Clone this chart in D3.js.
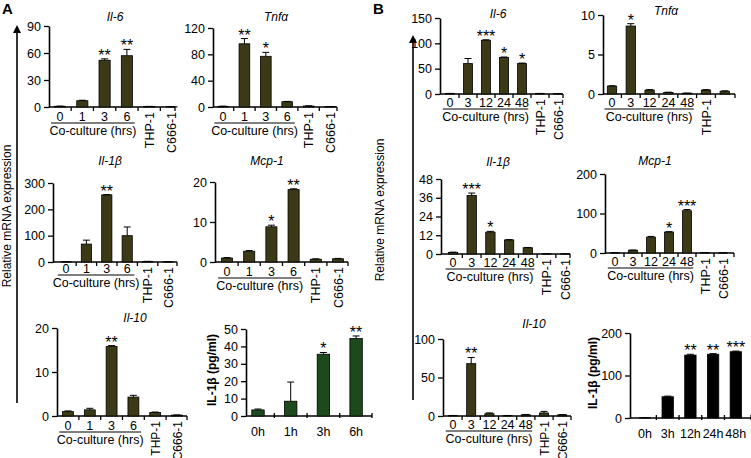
<!DOCTYPE html>
<html><head><meta charset="utf-8">
<script src="https://cdn.jsdelivr.net/npm/d3@7"></script>
<style>body{margin:0;background:#fff} text{font-family:Arial,"Liberation Sans",sans-serif;fill:#000}</style>
</head><body><svg id="c" width="751" height="458"></svg>
<script>
// ---------- data ----------
const catsA = ["0","1","3","6","THP-1","C666-1"];
const catsB = ["0","3","12","24","48","THP-1","C666-1"];
const elisaCatsA = ["0h","1h","3h","6h"];
const elisaCatsB = ["0h","3h","12h","24h","48h"];

const il6A = [0.8, 7, 52, 57, 0.5, 0.3];
const il6AErr = [0.2, 0.5, 1.5, 7, 0.2, 0.1];
const il6AStars = ["", "", "**", "**", "", ""];
const il6ATicks = [0, 30, 60, 90];

const tnfA = [1, 96, 77, 8, 1.5, 0.5];
const tnfAErr = [0.3, 8, 6, 0.5, 0.3, 0.1];
const tnfAStars = ["", "**", "*", "", "", ""];
const tnfATicks = [0, 40, 80, 120];

const il1bA = [1, 68, 255, 100, 2, 0.5];
const il1bAErr = [0.3, 15, 1, 33, 0.5, 0.1];
const il1bAStars = ["", "", "**", "", "", ""];
const il1bATicks = [0, 100, 200, 300];

const mcp1A = [1.0, 2.7, 8.8, 18.1, 0.7, 0.8];
const mcp1AErr = [0.1, 0.15, 0.4, 0.2, 0.1, 0.1];
const mcp1AStars = ["", "", "*", "**", "", ""];
const mcp1ATicks = [0, 10, 20];

const il10A = [1.0, 1.4, 15.8, 4.3, 0.8, 0.2];
const il10AErr = [0.15, 0.35, 0.2, 0.4, 0.1, 0.05];
const il10AStars = ["", "", "**", "", "", ""];
const il10ATicks = [0, 10, 20];

const elisaA = [3.5, 8.5, 35.5, 44.5];
const elisaAErr = [0.5, 11, 1, 1.5];
const elisaAStars = ["", "", "*", "**"];
const elisaATicks = [0, 10, 20, 30, 40, 50];

const il6B = [1, 60, 106, 72, 60, 1, 0.5];
const il6BErr = [0.2, 10, 1, 1, 1, 0.2, 0.1];
const il6BStars = ["", "", "***", "*", "*", "", ""];
const il6BTicks = [0, 50, 100, 150];

const tnfB = [1.0, 8.6, 0.5, 0.2, 0.1, 0.5, 0.35];
const tnfBErr = [0.05, 0.3, 0.05, 0.03, 0.02, 0.05, 0.05];
const tnfBStars = ["", "*", "", "", "", "", ""];
const tnfBTicks = [0, 5, 10];

const il1bB = [1.0, 37.5, 14, 9, 4, 0.1, 0.1];
const il1bBErr = [0.2, 1.5, 0.5, 0.2, 0.2, 0.02, 0.02];
const il1bBStars = ["", "***", "*", "", "", "", ""];
const il1bBTicks = [0, 12, 24, 36, 48];

const mcp1B = [0.5, 7, 40, 53, 107, 1, 0.3];
const mcp1BErr = [0.1, 0.5, 2, 1, 3, 0.2, 0.1];
const mcp1BStars = ["", "", "", "*", "***", "", ""];
const mcp1BTicks = [0, 100, 200];

const il10B = [0.5, 68, 3, 0.5, 1.5, 4, 1.5];
const il10BErr = [0.2, 8, 1, 0.2, 0.5, 2, 0.3];
const il10BStars = ["", "**", "", "", "", "", ""];
const il10BTicks = [0, 50, 100];

const elisaB = [0.5, 50, 148, 150, 156];
const elisaBErr = [0.2, 1.5, 2, 1.5, 1.5];
const elisaBStars = ["", "", "**", "**", "***"];
const elisaBTicks = [0, 100, 200];

// ---------- drawing ----------
const svg = d3.select("#c");
const OLIVE = "#3b3916";

function drawPanel(p) {
  const n = p.cats.length;
  const y = d3.scaleLinear().domain([0, p.max]).range([p.yBot, p.yTop]);
  const x = d3.scaleBand().domain(p.cats)
    .range([p.c0 - p.step / 2, p.c0 + (n - 0.5) * p.step])
    .paddingInner(p.pad).paddingOuter(p.pad / 2);
  const bw = x.bandwidth();
  const cx = c => x(c) + bw / 2;
  const g = svg.append("g");

  // y axis
  const ya = d3.axisLeft(y).tickValues(p.ticks).tickSize(5).tickSizeOuter(0).tickPadding(3);
  const yg = g.append("g").attr("transform", `translate(${p.axisX},0)`).call(ya);
  yg.select(".domain").attr("stroke-width", 1.6);
  yg.selectAll(".tick line").attr("stroke-width", 1.3);
  yg.selectAll(".tick text").attr("font-size", 12.5).attr("font-family", "Arial, Liberation Sans");

  // x axis baseline
  g.append("line").attr("x1", p.axisX).attr("x2", p.axisEnd)
    .attr("y1", p.yBot).attr("y2", p.yBot).attr("stroke", "#000").attr("stroke-width", 1.6);
  const bounds = p.cats.slice(0, -1).map(c => cx(c) + p.step / 2).concat([p.axisEnd]);
  g.selectAll(".xt").data(bounds).join("line")
    .attr("x1", d => d).attr("x2", d => d)
    .attr("y1", p.yBot + p.tickUp).attr("y2", p.yBot + p.tickDown)
    .attr("stroke", "#000").attr("stroke-width", 1.3);

  // bars
  g.selectAll(".bar").data(p.values).join("rect")
    .attr("x", (d, i) => x(p.cats[i])).attr("width", bw)
    .attr("y", d => y(d)).attr("height", d => p.yBot - y(d))
    .attr("fill", p.color).attr("stroke", "#000").attr("stroke-width", 0.8);

  // error bars
  const eg = g.selectAll(".err").data(p.values).join("g");
  eg.append("line")
    .attr("x1", (d, i) => cx(p.cats[i])).attr("x2", (d, i) => cx(p.cats[i]))
    .attr("y1", d => y(d)).attr("y2", (d, i) => y(d + p.errs[i]))
    .attr("stroke", "#000").attr("stroke-width", 1);
  eg.append("line")
    .attr("x1", (d, i) => cx(p.cats[i]) - 3.5).attr("x2", (d, i) => cx(p.cats[i]) + 3.5)
    .attr("y1", (d, i) => y(d + p.errs[i])).attr("y2", (d, i) => y(d + p.errs[i]))
    .attr("stroke", "#000").attr("stroke-width", 1);

  // stars
  g.selectAll(".star").data(p.values).join("text")
    .attr("x", (d, i) => cx(p.cats[i]))
    .attr("y", (d, i) => y(d + p.errs[i]) + 2)
    .attr("text-anchor", "middle").attr("font-size", 16)
    .text((d, i) => p.stars[i]);

  // category labels
  p.cats.forEach((c, i) => {
    if (p.rotated && i >= p.group) {
      if (p.hideLabels && p.hideLabels.includes(c)) return;
      g.append("text")
        .attr("transform", `translate(${cx(c) + 4.5},${p.yBot + 5}) rotate(-90)`)
        .attr("text-anchor", "end").attr("font-size", p.rotSize || 12.5).text(c);
    } else {
      g.append("text").attr("x", cx(c)).attr("y", p.yBot + p.labDy)
        .attr("text-anchor", "middle").attr("font-size", 12.5).text(c);
    }
  });

  // group underline + caption
  if (p.group) {
    const gx0 = cx(p.cats[0]) - p.step * 0.4;
    const gx1 = cx(p.cats[p.group - 1]) + p.step * 0.35;
    g.append("line").attr("x1", gx0).attr("x2", gx1)
      .attr("y1", p.yBot + p.labDy + 2).attr("y2", p.yBot + p.labDy + 2)
      .attr("stroke", "#000").attr("stroke-width", 1);
    g.append("text").attr("x", (gx0 + gx1) / 2).attr("y", p.yBot + p.labDy + 14)
      .attr("text-anchor", "middle").attr("font-size", 12.5).text("Co-culture (hrs)");
  }

  // title
  if (p.title) {
    g.append("text").attr("x", p.tx).attr("y", p.ty).attr("text-anchor", "middle")
      .attr("font-size", 12).attr("font-style", "italic").text(p.title);
  }
  if (p.ylabel) {
    g.append("text").attr("transform", `translate(${p.lx},${p.ly}) rotate(-90)`)
      .attr("text-anchor", "middle").attr("font-size", 12).attr("font-weight", "bold")
      .text(p.ylabel);
  }
}

const base = {pad: 0.5, tickUp: 0, tickDown: 4, labDy: 14, rotated: true, color: OLIVE};
const panels = [
  {cats: catsA, values: il6A, errs: il6AErr, stars: il6AStars, ticks: il6ATicks, max: 90, group: 4,
   axisX: 49, c0: 60, step: 22.3, axisEnd: 175, yBot: 107, yTop: 26, title: "Il-6", tx: 115, ty: 21},
  {cats: catsA, values: tnfA, errs: tnfAErr, stars: tnfAStars, ticks: tnfATicks, max: 120, group: 4,
   axisX: 213, c0: 223, step: 21.4, axisEnd: 337, yBot: 107, yTop: 28, title: "Tnfα", tx: 276, ty: 21},
  {cats: catsA, values: il1bA, errs: il1bAErr, stars: il1bAStars, ticks: il1bATicks, max: 300, group: 4,
   axisX: 53, c0: 66, step: 20.4, axisEnd: 177, yBot: 262, yTop: 183, title: "Il-1β", tx: 110, ty: 165, labDy: 11},
  {cats: catsA, values: mcp1A, errs: mcp1AErr, stars: mcp1AStars, ticks: mcp1ATicks, max: 20, group: 4,
   axisX: 215, c0: 227, step: 22.2, axisEnd: 348, yBot: 262, yTop: 182, title: "Mcp-1", tx: 267, ty: 165},
  {cats: catsA, values: il10A, errs: il10AErr, stars: il10AStars, ticks: il10ATicks, max: 20, group: 4,
   axisX: 57, c0: 68, step: 21.8, axisEnd: 187, yBot: 416, yTop: 328, title: "Il-10", tx: 135, ty: 322, rotSize: 12},
  {cats: elisaCatsA, values: elisaA, errs: elisaAErr, stars: elisaAStars, ticks: elisaATicks, max: 50,
   axisX: 246, c0: 258, step: 32.7, axisEnd: 372, yBot: 416, yTop: 329, rotated: false, labDy: 20,
   tickUp: -3, tickDown: 2, color: "#1d4a1d", ylabel: "IL-1β (pg/ml)", lx: 216, ly: 370, pad: 0.62},
  {cats: catsB, values: il6B, errs: il6BErr, stars: il6BStars, ticks: il6BTicks, max: 150, group: 5,
   axisX: 440, c0: 450, step: 18, axisEnd: 563, yBot: 94, yTop: 18, title: "Il-6", tx: 498, ty: 18, labDy: 13},
  {cats: catsB, values: tnfB, errs: tnfBErr, stars: tnfBStars, ticks: tnfBTicks, max: 10, group: 5,
   axisX: 603, c0: 612, step: 18.8, axisEnd: 735, yBot: 94, yTop: 15, title: "Tnfα", tx: 666, ty: 15, labDy: 13,
   hideLabels: ["C666-1"]},
  {cats: catsB, values: il1bB, errs: il1bBErr, stars: il1bBStars, ticks: il1bBTicks, max: 48, group: 5,
   axisX: 441, c0: 453, step: 18.7, axisEnd: 570, yBot: 254, yTop: 179, title: "Il-1β", tx: 498, ty: 166, labDy: 13},
  {cats: catsB, values: mcp1B, errs: mcp1BErr, stars: mcp1BStars, ticks: mcp1BTicks, max: 200, group: 5,
   axisX: 605, c0: 615, step: 18, axisEnd: 734, yBot: 253, yTop: 174, title: "Mcp-1", tx: 655, ty: 165, labDy: 13},
  {cats: catsB, values: il10B, errs: il10BErr, stars: il10BStars, ticks: il10BTicks, max: 100, group: 5,
   axisX: 443, c0: 453, step: 18.2, axisEnd: 571, yBot: 416, yTop: 339, title: "Il-10", tx: 534, ty: 328, labDy: 13, rotSize: 12},
  {cats: elisaCatsB, values: elisaB, errs: elisaBErr, stars: elisaBStars, ticks: elisaBTicks, max: 200,
   axisX: 630, c0: 645, step: 22.7, axisEnd: 751, yBot: 418, yTop: 333, rotated: false, labDy: 20,
   tickUp: -3, tickDown: 2, color: "#000", ylabel: "IL-1β (pg/ml)", lx: 597, ly: 373, pad: 0.5}
];
panels.forEach(p => drawPanel(Object.assign({}, base, p)));

// overall axis arrows and labels
const defs = svg.append("defs");
defs.append("marker").attr("id", "arr").attr("viewBox", "0 0 10 10").attr("refX", 5).attr("refY", 5)
  .attr("markerWidth", 5).attr("markerHeight", 7).attr("orient", "auto-start-reverse")
  .append("path").attr("d", "M0,0L10,5L0,10Z").attr("fill", "#000");
[[17, 403, 29, 11, 216], [413, 400, 39, 384, 210]].forEach(([lx, y1, y2, tx, ty]) => {
  svg.append("line").attr("x1", lx).attr("x2", lx).attr("y1", y1).attr("y2", y2)
    .attr("stroke", "#000").attr("stroke-width", 1.6).attr("marker-end", "url(#arr)");
  svg.append("text").attr("transform", `translate(${tx},${ty}) rotate(-90)`)
    .attr("text-anchor", "middle").attr("font-size", 12).text("Relative mRNA expression");
});
svg.append("text").attr("x", 2).attr("y", 14).attr("font-size", 15).attr("font-weight", "bold").text("A");
svg.append("text").attr("x", 373).attr("y", 14).attr("font-size", 15).attr("font-weight", "bold").text("B");
</script></body></html>
